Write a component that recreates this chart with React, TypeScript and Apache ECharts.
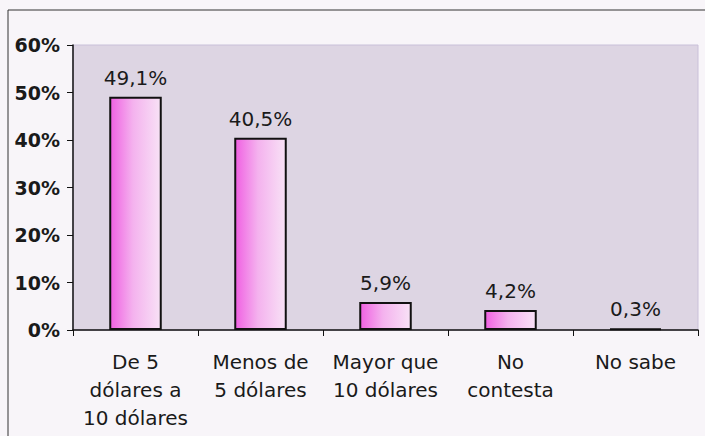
import React, { useEffect, useRef } from "react";
import * as echarts from "echarts";

const categories = [
  "De 5\ndólares a\n10 dólares",
  "Menos de\n5 dólares",
  "Mayor que\n10 dólares",
  "No\ncontesta",
  "No sabe",
];
const values = [49.1, 40.5, 5.9, 4.2, 0.3];
const yMin = 0;
const yMax = 60;
const yInterval = 10;

export default function App() {
  const ref = useRef<HTMLDivElement>(null);
  useEffect(() => {
    document.body.style.margin = "0";
    const chart = echarts.init(ref.current!, undefined, { renderer: "svg" });
    const font = "DejaVu Sans, Arial, sans-serif";
    chart.setOption({
      animation: false,
      backgroundColor: "#f8f5f9",
      textStyle: { fontFamily: font },
      graphic: [
        { type: "line", shape: { x1: 8, y1: 10, x2: 705, y2: 10 }, style: { stroke: "#333", lineWidth: 1 } },
        { type: "line", shape: { x1: 8, y1: 10, x2: 8, y2: 436 }, style: { stroke: "#333", lineWidth: 1 } },
      ],
      grid: {
        left: 73,
        right: 7,
        top: 45,
        bottom: 106,
        show: true,
        backgroundColor: "#ddd5e3",
        borderColor: "#c9c0d9",
        borderWidth: 1,
      },
      xAxis: {
        type: "category",
        data: categories,
        axisLine: { lineStyle: { color: "#111", width: 1.5 } },
        axisTick: { show: true, length: 6, lineStyle: { color: "#111" } },
        axisLabel: {
          color: "#1a1a1a",
          fontSize: 20,
          fontFamily: font,
          lineHeight: 28,
          margin: 18,
          interval: 0,
        },
      },
      yAxis: {
        type: "value",
        min: yMin,
        max: yMax,
        interval: yInterval,
        axisLine: { show: true, lineStyle: { color: "#111", width: 1.5 } },
        axisTick: { show: true, length: 6, lineStyle: { color: "#111" } },
        splitLine: { show: false },
        axisLabel: {
          formatter: "{value}%",
          color: "#1a1a1a",
          fontSize: 19,
          fontWeight: "bold",
          fontFamily: font,
          margin: 13,
        },
      },
      series: [
        {
          type: "bar",
          data: values,
          barWidth: "42%",
          itemStyle: {
            borderColor: "#111",
            borderWidth: 2,
            color: new echarts.graphic.LinearGradient(0, 0, 1, 0, [
              { offset: 0, color: "#f060e2" },
              { offset: 0.45, color: "#f4b2ee" },
              { offset: 1, color: "#f8e2f6" },
            ]),
          },
          label: {
            show: true,
            position: "top",
            distance: 9,
            color: "#1a1a1a",
            fontSize: 20,
            fontFamily: font,
            formatter: (p: any) => p.value.toFixed(1).replace(".", ",") + "%",
          },
        },
      ],
    });
    return () => chart.dispose();
  }, []);
  return <div ref={ref} style={{ width: 705, height: 436 }} />;
}
